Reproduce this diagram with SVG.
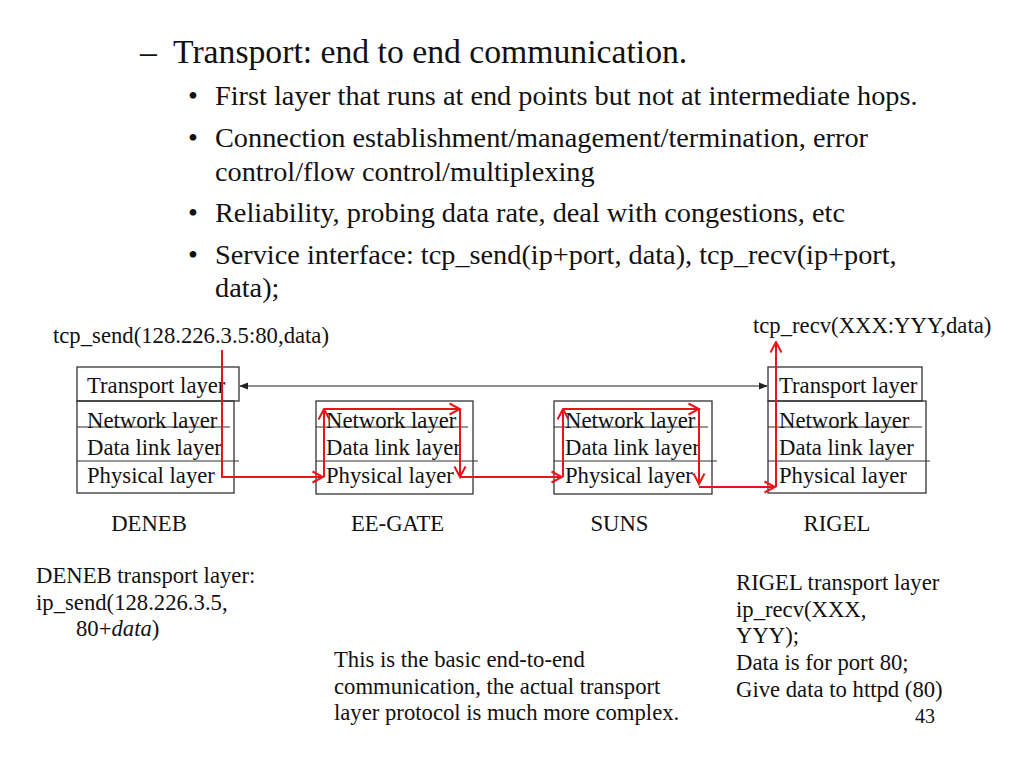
<svg xmlns="http://www.w3.org/2000/svg" width="1024" height="768" viewBox="0 0 1024 768">
<style>
text{font-family:"Liberation Serif","Times New Roman",serif;fill:#111}
.t{font-size:33.7px}
.b{font-size:28.3px}
.s{font-size:22.7px}
.n{font-size:20px}
.box{fill:none;stroke:#333;stroke-width:1.3}
.sep{stroke:#333;stroke-width:1.2}
.red{fill:none;stroke:#e8141c;stroke-width:2}
.blk{fill:none;stroke:#222;stroke-width:1.2}
</style>
<defs>
<marker id="ra" viewBox="0 0 14 14" refX="12.5" refY="7" markerWidth="14" markerHeight="14" markerUnits="userSpaceOnUse" orient="auto">
<path d="M2,1.5 L12.5,7 L2,12.5" fill="none" stroke="#e8141c" stroke-width="2"/>
</marker>
<marker id="ba" viewBox="0 0 10 10" refX="9" refY="5" markerWidth="9" markerHeight="9" markerUnits="userSpaceOnUse" orient="auto-start-reverse">
<path d="M0,1 L10,5 L0,9 Z" fill="#222"/>
</marker>
</defs>

<g id="bullets">
<text class="t" x="140" y="63">–</text>
<text class="t" x="173" y="63">Transport: end to end communication.</text>
<text class="b" x="188" y="105">•</text>
<text class="b" x="215" y="105">First layer that runs at end points but not at intermediate hops.</text>
<text class="b" x="188" y="147">•</text>
<text class="b" x="215" y="147">Connection establishment/management/termination, error</text>
<text class="b" x="215" y="181">control/flow control/multiplexing</text>
<text class="b" x="188" y="222">•</text>
<text class="b" x="215" y="222">Reliability, probing data rate, deal with congestions, etc</text>
<text class="b" x="188" y="264">•</text>
<text class="b" x="215" y="264">Service interface: tcp_send(ip+port, data), tcp_recv(ip+port,</text>
<text class="b" x="215" y="297">data);</text>
</g>

<g id="labels">
<text class="s" x="53" y="343">tcp_send(128.226.3.5:80,data)</text>
<text class="s" x="753" y="333">tcp_recv(XXX:YYY,data)</text>
</g>

<g id="deneb">
<rect class="box" x="77" y="367" width="162" height="34"/>
<rect class="box" x="77" y="401" width="157" height="92"/>
<line class="sep" x1="77" y1="427" x2="230" y2="427"/>
<line class="sep" x1="77" y1="461" x2="239" y2="461"/>
<text class="s" x="87" y="393">Transport layer</text>
<text class="s" x="87" y="428">Network layer</text>
<text class="s" x="87" y="455">Data link layer</text>
<text class="s" x="87" y="483">Physical layer</text>
<text class="s" x="149" y="531" text-anchor="middle">DENEB</text>
</g>

<g id="eegate">
<rect class="box" x="316" y="401" width="157" height="93"/>
<line class="sep" x1="316" y1="427" x2="468" y2="427"/>
<line class="sep" x1="316" y1="461" x2="478" y2="461"/>
<text class="s" x="326" y="428">Network layer</text>
<text class="s" x="326" y="455">Data link layer</text>
<text class="s" x="326" y="483">Physical layer</text>
<text class="s" x="397.5" y="531" text-anchor="middle">EE-GATE</text>
</g>

<g id="suns">
<rect class="box" x="554" y="401" width="158" height="93"/>
<line class="sep" x1="554" y1="427" x2="708" y2="427"/>
<line class="sep" x1="554" y1="461" x2="717" y2="461"/>
<text class="s" x="565" y="428">Network layer</text>
<text class="s" x="565" y="455">Data link layer</text>
<text class="s" x="565" y="483">Physical layer</text>
<text class="s" x="619.5" y="531" text-anchor="middle">SUNS</text>
</g>

<g id="rigel">
<rect class="box" x="768" y="367" width="154" height="34"/>
<rect class="box" x="768" y="401" width="158" height="92"/>
<line class="sep" x1="768" y1="427" x2="922" y2="427"/>
<line class="sep" x1="768" y1="461" x2="930" y2="461"/>
<text class="s" x="779" y="393">Transport layer</text>
<text class="s" x="779" y="428">Network layer</text>
<text class="s" x="779" y="455">Data link layer</text>
<text class="s" x="779" y="483">Physical layer</text>
<text class="s" x="837" y="531" text-anchor="middle">RIGEL</text>
</g>

<g id="connectors">
<line class="blk" x1="240" y1="386" x2="767" y2="386" marker-start="url(#ba)" marker-end="url(#ba)"/>
<path class="red" d="M222,350 V477 H323" marker-end="url(#ra)"/>
<path class="red" d="M324,477 V409" marker-end="url(#ra)"/>
<path class="red" d="M324,409 H460" marker-end="url(#ra)"/>
<path class="red" d="M460,409 V477" marker-end="url(#ra)"/>
<path class="red" d="M460,477 H562" marker-end="url(#ra)"/>
<path class="red" d="M563,477 V409" marker-end="url(#ra)"/>
<path class="red" d="M563,409 H699" marker-end="url(#ra)"/>
<path class="red" d="M699,409 V484" marker-end="url(#ra)"/>
<path class="red" d="M699,487 H775" marker-end="url(#ra)"/>
<path class="red" d="M776,487 V342" marker-end="url(#ra)"/>
</g>

<g id="notes">
<text class="s" x="36" y="583">DENEB transport layer:</text>
<text class="s" x="36" y="610">ip_send(128.226.3.5,</text>
<text class="s" x="76" y="636">80+<tspan font-style="italic">data</tspan>)</text>
<text class="s" x="334" y="667">This is the basic end-to-end</text>
<text class="s" x="334" y="694">communication, the actual transport</text>
<text class="s" x="334" y="720">layer protocol is much more complex.</text>
<text class="s" x="736" y="590">RIGEL transport layer</text>
<text class="s" x="736" y="617">ip_recv(XXX,</text>
<text class="s" x="736" y="643">YYY);</text>
<text class="s" x="736" y="670">Data is for port 80;</text>
<text class="s" x="736" y="697">Give data to httpd (80)</text>
<text class="n" x="915" y="723">43</text>
</g>
</svg>
